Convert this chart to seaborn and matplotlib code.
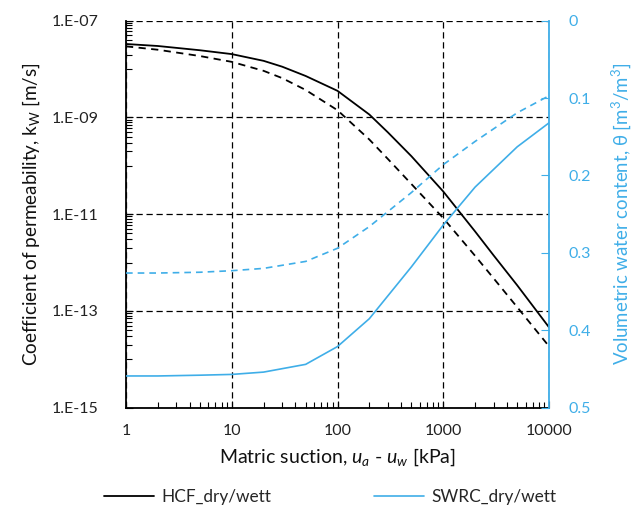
import numpy as np
import pandas as pd
import matplotlib
matplotlib.use("Agg")
import matplotlib.pyplot as plt
import matplotlib.ticker as mticker
from matplotlib.lines import Line2D
import seaborn as sns

# ---- data ----
suction = [1, 2, 5, 10, 20, 30, 50, 100, 200, 300, 500, 1000, 2000, 3000, 5000, 10000]
hcf_dry = [3.3e-8, 3.0e-8, 2.45e-8, 2.04e-8, 1.48e-8, 1.12e-8, 7.2e-9, 3.55e-9,
           1.15e-9, 4.9e-10, 1.58e-10, 2.95e-11, 4.4e-12, 1.4e-12, 3.4e-13, 4.6e-14]
hcf_wet = [2.95e-8, 2.51e-8, 1.86e-8, 1.41e-8, 9.2e-9, 6.5e-9, 3.7e-9, 1.41e-9,
           3.5e-10, 1.38e-10, 4.2e-11, 8.3e-12, 1.38e-12, 4.7e-13, 1.2e-13, 1.86e-14]
swrc_suction = [1, 2, 5, 10, 20, 50, 100, 200, 500, 1000, 2000, 5000, 10000]
swrc_dry = [0.459, 0.459, 0.458, 0.457, 0.454, 0.444, 0.421, 0.385, 0.318, 0.264, 0.215, 0.163, 0.132]
swrc_wet = [0.326, 0.326, 0.325, 0.323, 0.320, 0.311, 0.294, 0.266, 0.222, 0.186, 0.156, 0.119, 0.097]

x_ticks = [1, 10, 100, 1000, 10000]
k_ticks = [1e-15, 1e-13, 1e-11, 1e-9, 1e-7]
theta_ticks = [0, 0.1, 0.2, 0.3, 0.4, 0.5]

BLUE = "#3FAEE8"

sns.set_style("white")
plt.rcParams["font.family"] = ["Lato", "DejaVu Sans"]
plt.rcParams["mathtext.fontset"] = "custom"
plt.rcParams["mathtext.rm"] = "Lato"
plt.rcParams["mathtext.it"] = "Lato:italic"

fig = plt.figure(figsize=(6.38, 5.11), dpi=100)
ax = fig.add_axes([126 / 638, 1 - 407.7 / 511, (549 - 126) / 638, (407.7 - 20.7) / 511])

df_h = pd.DataFrame({"s": suction, "dry": hcf_dry, "wet": hcf_wet})
df_w = pd.DataFrame({"s": swrc_suction, "dry": swrc_dry, "wet": swrc_wet})

sns.lineplot(data=df_h, x="s", y="dry", ax=ax, color="black", lw=1.3, zorder=3)
sns.lineplot(data=df_h, x="s", y="wet", ax=ax, color="black", lw=1.3, zorder=3,
             linestyle=(0, (4, 3)))
ax.set_xscale("log")
ax.set_yscale("log")

ax2 = ax.twinx()
sns.lineplot(data=df_w, x="s", y="dry", ax=ax2, color=BLUE, lw=1.2)
sns.lineplot(data=df_w, x="s", y="wet", ax=ax2, color=BLUE, lw=1.2, linestyle=(0, (4, 3)))

ax.set_xlim(1, 10000)
ax.set_ylim(1e-15, 1e-7)
ax2.set_ylim(0.5, 0)

ax.xaxis.set_major_locator(mticker.FixedLocator(x_ticks))
ax.xaxis.set_major_formatter(mticker.FixedFormatter([str(v) for v in x_ticks]))
ax.xaxis.set_minor_locator(mticker.LogLocator(base=10, subs=np.arange(2, 10)))
ax.xaxis.set_minor_formatter(mticker.NullFormatter())

ax.yaxis.set_major_locator(mticker.FixedLocator(k_ticks))
ax.yaxis.set_major_formatter(mticker.FixedFormatter(
    ["1.E%03d" % int(round(np.log10(v))) for v in k_ticks]))
minor_k = [k * 10.0 ** e for e in (-14, -12, -10, -8) for k in range(1, 10)]
ax.yaxis.set_minor_locator(mticker.FixedLocator(minor_k))
ax.yaxis.set_minor_formatter(mticker.NullFormatter())

ax.tick_params(axis="both", which="major", direction="in", labelsize=11.5,
               colors="#222222")
ax.tick_params(axis="x", which="major", pad=12, bottom=True, length=5, color="black")
ax.tick_params(axis="y", which="major", pad=20, left=True, length=5, color="black")
ax.tick_params(axis="both", which="minor", direction="in", length=4, width=0.8,
               color="black", bottom=True, left=True)

ax.grid(True, which="major", color="black", linestyle=(0, (5, 3)), linewidth=0.9)
ax.set_axisbelow(True)
for side in ("top", "right"):
    ax.spines[side].set_visible(False)
for side in ("left", "bottom"):
    ax.spines[side].set_color("black")
    ax.spines[side].set_linewidth(1.3)

ax.set_xlabel(r"Matric suction, $\mathit{u_a}$ - $\mathit{u_w}$ [kPa]", fontsize=14,
              color="#111111", labelpad=6)
ax.set_ylabel(r"Coefficient of permeability, k$_\mathrm{W}$ [m/s]", fontsize=13.6,
              color="#111111", labelpad=7)

ax2.yaxis.set_major_locator(mticker.FixedLocator(theta_ticks))
ax2.yaxis.set_major_formatter(mticker.FixedFormatter(["0", "0.1", "0.2", "0.3", "0.4", "0.5"]))
ax2.tick_params(axis="y", which="major", direction="in", length=6, color=BLUE,
                labelcolor=BLUE, labelsize=11.5, pad=14, right=True)
ax2.set_ylabel(r"Volumetric water content, θ [m$^3$/m$^3$]", fontsize=13.4, color=BLUE,
               labelpad=13)
for side in ("top", "left", "bottom"):
    ax2.spines[side].set_visible(False)
ax2.spines["right"].set_color(BLUE)
ax2.spines["right"].set_linewidth(1.3)
ax2.grid(False)

handles = [Line2D([], [], color="black", lw=1.3), Line2D([], [], color=BLUE, lw=1.2)]
fig.legend(handles, ["HCF_dry/wett", "SWRC_dry/wett"], ncol=2, frameon=False,
           loc="center", bbox_to_anchor=(330 / 638, 1 - 497 / 511), fontsize=12.4,
           handlelength=2.9, columnspacing=6.0, handletextpad=0.4)

fig.savefig("out.png", dpi=100)
